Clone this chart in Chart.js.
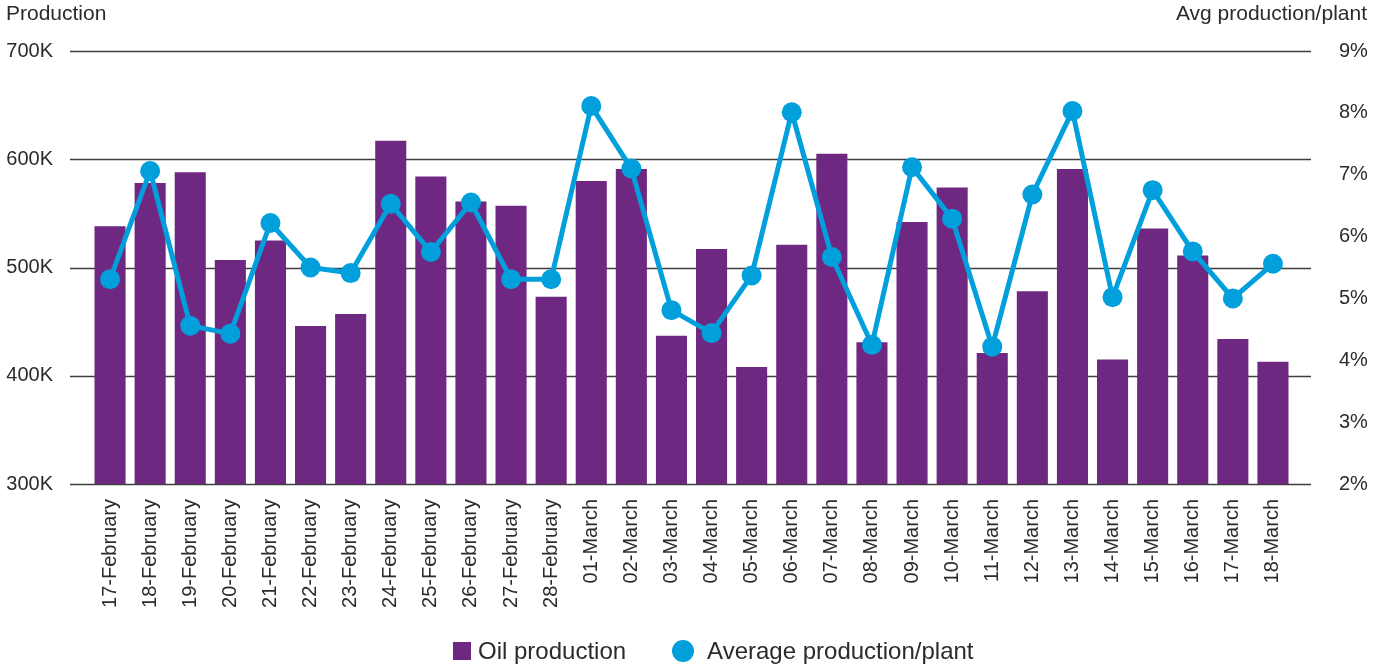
<!DOCTYPE html>
<html>
<head>
<meta charset="utf-8">
<title>Oil production</title>
<script src="https://cdn.jsdelivr.net/npm/chart.js@4.4.1/dist/chart.umd.min.js"></script>
<style>
    body { margin: 0; background: #fff; }
    #wrap { position: relative; width: 1373px; height: 668px; }
    .axis-title {
        position: absolute;
        top: 0;
        font: 21px "Liberation Sans", Arial, sans-serif;
        line-height: 25px;
        color: #2b2b2b;
    }
    #title-left { left: 6px; }
    #title-right { right: 6px; }
    #legend {
        position: absolute;
        left: 453px;
        top: 637px;
        display: flex;
        align-items: center;
        font: 24px "Liberation Sans", Arial, sans-serif;
        line-height: 28px;
        color: #2b2b2b;
    }
    #legend .item { display: flex; align-items: center; margin-right: 46px; }
    #legend .rect { width: 18px; height: 18px; margin-right: 7px; }
    #legend .circle { width: 22px; height: 22px; border-radius: 50%; margin-right: 13px; }
</style>
</head>
<body>
<div id="wrap">
    <canvas id="chart" width="1373" height="668"></canvas>
    <div class="axis-title" id="title-left">Production</div>
    <div class="axis-title" id="title-right">Avg production/plant</div>
    <div id="legend"></div>
</div>
<script>
const dates = [
    '17-February', '18-February', '19-February', '20-February', '21-February', '22-February',
    '23-February', '24-February', '25-February', '26-February', '27-February', '28-February',
    '01-March', '02-March', '03-March', '04-March', '05-March', '06-March', '07-March',
    '08-March', '09-March', '10-March', '11-March', '12-March', '13-March', '14-March',
    '15-March', '16-March', '17-March', '18-March'
];

// oil production, in barrels
const oilProduction = [
    538000, 578000, 588000, 507000, 525000, 446000, 457000, 617000, 584000, 561000,
    557000, 473000, 580000, 591000, 437000, 517000, 408000, 521000, 605000, 431000,
    542000, 574000, 421000, 478000, 591000, 415000, 536000, 511000, 434000, 413000
];

// average production per plant, in %
const avgPerPlant = [
    5.31, 7.06, 4.56, 4.43, 6.22, 5.50, 5.41, 6.53, 5.75, 6.55,
    5.31, 5.31, 8.11, 7.10, 4.81, 4.44, 5.37, 8.01, 5.67, 4.25,
    7.12, 6.29, 4.22, 6.68, 8.03, 5.02, 6.75, 5.76, 5.00, 5.56
];

const productionTicks = [300000, 400000, 500000, 600000, 700000];
const percentTicks = [2, 3, 4, 5, 6, 7, 8, 9];

const PURPLE = '#6f2882';
const BLUE = '#019fdb';
const TEXT = '#2b2b2b';
const FONT = '"Liberation Sans", Arial, sans-serif';

// horizontal grid lines run a bit past the plot area on both sides
const extendedGrid = {
    id: 'extendedGrid',
    beforeDatasetsDraw(chart) {
        const { ctx, chartArea, scales } = chart;
        ctx.save();
        ctx.strokeStyle = '#3f3f3f';
        ctx.lineWidth = 1.6;
        productionTicks.forEach(v => {
            const y = Math.round(scales.y.getPixelForValue(v)) + 0.5;
            ctx.beginPath();
            ctx.moveTo(chartArea.left - 20, y);
            ctx.lineTo(chartArea.right + 18, y);
            ctx.stroke();
        });
        ctx.restore();
    }
};

const chart = new Chart(document.getElementById('chart'), {
    data: {
        labels: dates,
        datasets: [
            {
                type: 'bar',
                label: 'Oil production',
                data: oilProduction,
                yAxisID: 'y',
                backgroundColor: PURPLE,
                borderWidth: 0,
                pointStyle: 'rect',
                barPercentage: 0.775,
                categoryPercentage: 1,
                order: 2
            },
            {
                type: 'line',
                label: 'Average production/plant',
                data: avgPerPlant,
                yAxisID: 'y1',
                borderColor: BLUE,
                backgroundColor: BLUE,
                borderWidth: 5,
                pointStyle: 'circle',
                pointRadius: 10,
                pointBackgroundColor: BLUE,
                pointBorderWidth: 0,
                tension: 0,
                order: 1
            }
        ]
    },
    options: {
        responsive: false,
        animation: false,
        devicePixelRatio: 1,
        layout: { padding: { top: 51, bottom: 0, left: 0, right: 0 } },
        scales: {
            x: {
                grid: { display: false },
                border: { display: false },
                ticks: {
                    autoSkip: false,
                    minRotation: 90,
                    maxRotation: 90,
                    padding: 7,
                    color: TEXT,
                    font: { family: FONT, size: 20 }
                },
                afterFit: scale => { scale.height = 184; }
            },
            y: {
                position: 'left',
                min: 300000,
                max: 700000,
                grid: { display: false },
                border: { display: false },
                afterBuildTicks: scale => { scale.ticks = productionTicks.map(v => ({ value: v })); },
                ticks: {
                    padding: 29,
                    color: TEXT,
                    font: { family: FONT, size: 20 },
                    callback: v => (v / 1000) + 'K'
                },
                afterFit: scale => { scale.width = 90; }
            },
            y1: {
                position: 'right',
                min: 2,
                max: 9,
                grid: { display: false },
                border: { display: false },
                afterBuildTicks: scale => { scale.ticks = percentTicks.map(v => ({ value: v })); },
                ticks: {
                    padding: 38,
                    color: TEXT,
                    font: { family: FONT, size: 20 },
                    callback: v => v + '%'
                },
                afterFit: scale => { scale.width = 80; }
            }
        },
        plugins: {
            tooltip: { enabled: false },
            legend: { display: false }
        }
    },
    plugins: [extendedGrid]
});

// html legend, built from the datasets
const legendEl = document.getElementById('legend');
chart.data.datasets.forEach(ds => {
    const item = document.createElement('div');
    item.className = 'item';
    const marker = document.createElement('span');
    marker.className = ds.pointStyle === 'circle' ? 'circle' : 'rect';
    marker.style.background = ds.backgroundColor;
    const label = document.createElement('span');
    label.innerText = ds.label;
    item.appendChild(marker);
    item.appendChild(label);
    legendEl.appendChild(item);
});
</script>
</body>
</html>
